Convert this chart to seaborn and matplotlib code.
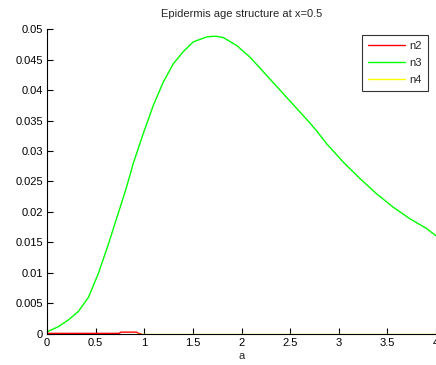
import matplotlib
matplotlib.use("Agg")
import matplotlib.pyplot as plt
import seaborn as sns
import pandas as pd

# data
a_n3 = [0.0, 0.007, 0.116, 0.219, 0.322, 0.425, 0.527, 0.630, 0.716, 0.812, 0.887,
        0.990, 1.093, 1.195, 1.298, 1.401, 1.504, 1.641, 1.700, 1.744, 1.812, 1.950,
        2.086, 2.258, 2.429, 2.600, 2.703, 2.772, 2.875, 3.045, 3.217, 3.388, 3.559,
        3.731, 3.902, 4.0]
n3 = [0.0004, 0.0004, 0.0012, 0.0023, 0.0037, 0.0060, 0.0099, 0.0147, 0.0190, 0.0238,
      0.0280, 0.0329, 0.0375, 0.0413, 0.0443, 0.0463, 0.0479, 0.0487, 0.0488, 0.0488,
      0.0486, 0.0473, 0.0454, 0.0424, 0.0394, 0.0364, 0.0346, 0.0333, 0.0312, 0.0282,
      0.0255, 0.0230, 0.0208, 0.0189, 0.0173, 0.0161]
a_n2 = [0.0, 0.25, 0.5, 0.74, 0.76, 0.85, 0.92, 0.94, 0.97]
n2 = [0.0001, 0.0001, 0.0001, 0.0001, 0.0003, 0.0003, 0.0003, 0.0001, 0.0]
a_n4 = [0.9, 4.0]
n4 = [0.0, 0.0]

series_names = ["n2", "n3", "n4"]
colors = ["#ff0000", "#00ff00", "#ffff00"]
title = "Epidermis age structure at x=0.5"
xticks = [0, 0.5, 1, 1.5, 2, 2.5, 3, 3.5, 4]
xticklabels = ["0", "0.5", "1", "1.5", "2", "2.5", "3", "3.5", "4"]
yticks = [0, 0.005, 0.01, 0.015, 0.02, 0.025, 0.03, 0.035, 0.04, 0.045, 0.05]
yticklabels = ["0", "0.005", "0.01", "0.015", "0.02", "0.025", "0.03",
               "0.035", "0.04", "0.045", "0.05"]

sns.set_style("ticks")
plt.rcParams["font.family"] = ["Liberation Sans", "DejaVu Sans"]

df = pd.concat([
    pd.DataFrame({"a": a_n2, "v": n2, "s": "n2"}),
    pd.DataFrame({"a": a_n3, "v": n3, "s": "n3"}),
    pd.DataFrame({"a": a_n4, "v": n4, "s": "n4"}),
], ignore_index=True)

fig = plt.figure(figsize=(4.36, 3.65), dpi=100)
ax = fig.add_axes([0.108, 0.085, 0.892, 0.8355])
for name, c in zip(series_names, colors):
    sub = df[df["s"] == name]
    sns.lineplot(data=sub, x="a", y="v", ax=ax, color=c, linewidth=1.0,
                 label=name, estimator=None, sort=False)

ax.set_xlim(0, 4)
ax.set_ylim(0, 0.05)
ax.set_xticks(xticks)
ax.set_xticklabels(xticklabels)
ax.set_yticks(yticks)
ax.set_yticklabels(yticklabels)
ax.tick_params(direction="in", length=4, width=0.8, labelsize=8, colors="black", pad=3)
ax.set_xlabel("a", fontsize=8, labelpad=2)
ax.set_ylabel("")
ax.set_title(title, fontsize=8, pad=9)
for s in ["top", "right"]:
    ax.spines[s].set_visible(False)
for s in ["left", "bottom"]:
    ax.spines[s].set_linewidth(0.8)
    ax.spines[s].set_color("black")

leg = ax.legend(loc="upper right", bbox_to_anchor=(0.979, 0.980), fontsize=8,
                frameon=True, fancybox=False, handlelength=3.4, borderpad=0.5,
                labelspacing=0.65, handletextpad=0.4, borderaxespad=0)
leg.get_frame().set_edgecolor("black")
leg.get_frame().set_linewidth(0.8)

fig.savefig("out.png", dpi=100)
